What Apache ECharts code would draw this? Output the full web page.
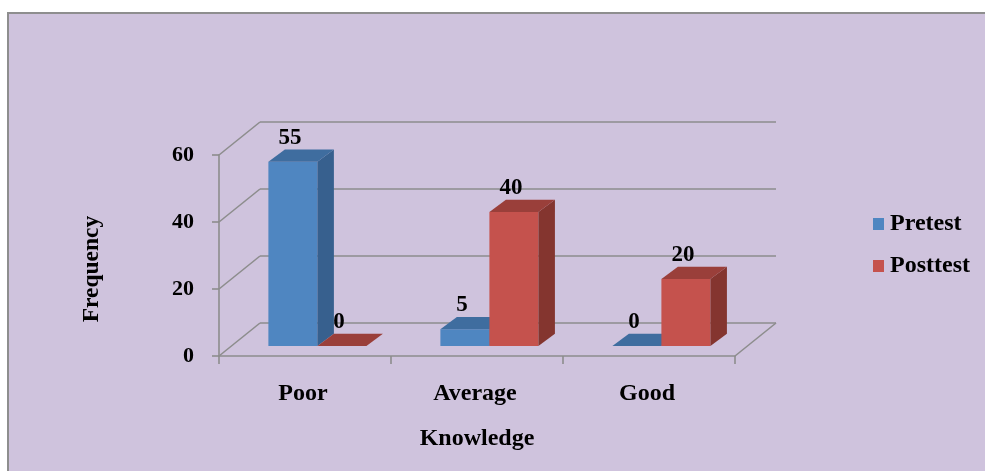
<!DOCTYPE html>
<html>
<head>
<meta charset="utf-8">
<title>Knowledge</title>
<style>
    html, body { margin: 0; padding: 0; background: #fff; }
    #box1 { width: 985px; height: 471px; }
</style>
<script src="https://cdn.jsdelivr.net/npm/echarts@6/dist/echarts.min.js"></script>
</head>
<body>
<div id="box1"></div>
<script>
var categories = ['Poor', 'Average', 'Good'];
var pretest = [55, 5, 0];
var posttest = [0, 40, 20];
var yTicks = [0, 20, 40, 60];

var fontFamily = '"Liberation Serif", "Times New Roman", serif';
var lineColor = '#8d8d8d';
var blueFaces = { front: '#4f86c1', side: '#37608e', top: '#3f6d9f' };
var redFaces = { front: '#c5524d', side: '#84352f', top: '#9a3f3a' };

// depth of the 3d box, and of one bar inside it
var wallDx = 41, wallDy = -33;
var floorDx = 12.4, floorDy = -10;
var barDx = 16.5, barDy = -12.3;
var barRatio = 0.285;

var chart = echarts.init(document.getElementById('box1'));

function poly(points, color) {
    return { type: 'polygon', shape: { points: points }, style: { fill: color } };
}

function wallLine(x1, y1, x2, y2) {
    return {
        type: 'line',
        shape: { x1: x1, y1: y1, x2: x2, y2: y2 },
        style: { stroke: lineColor, lineWidth: 1.6, fill: null }
    };
}

function renderWall(params, api) {
    var sys = params.coordSys;
    var val = api.value(1);
    var y = api.coord([0, val])[1];
    var left = sys.x, right = sys.x + sys.width;
    var children = [
        wallLine(left, y, left + wallDx, y + wallDy),
        wallLine(left + wallDx, y + wallDy, right + wallDx, y + wallDy)
    ];
    if (val === 0) {
        children.push(wallLine(right, y, right + wallDx, y + wallDy));
    }
    return { type: 'group', children: children };
}

function barRenderer(faces, side) {
    return function (params, api) {
        var top = api.coord([api.value(0), api.value(1)]);
        var base = api.coord([api.value(0), 0]);
        var barW = api.size([1, 0])[0] * barRatio;
        var x1 = top[0] + floorDx + (side < 0 ? -barW : 0);
        var x2 = x1 + barW;
        var y1 = top[1] + floorDy;
        var y2 = base[1] + floorDy;
        var children = [];
        if (y2 - y1 > 0) {
            children.push(poly([[x1, y1], [x2, y1], [x2, y2], [x1, y2]], faces.front));
            children.push(poly([[x2, y1], [x2 + barDx, y1 + barDy], [x2 + barDx, y2 + barDy], [x2, y2]], faces.side));
        }
        children.push(poly([[x1, y1], [x2, y1], [x2 + barDx, y1 + barDy], [x1 + barDx, y1 + barDy]], faces.top));
        children.push({
            type: 'text',
            style: {
                x: (x1 + x2) / 2 - 3,
                y: y1 - 24,
                text: String(api.value(1)),
                fill: '#000',
                font: 'bold 23px ' + fontFamily,
                textAlign: 'center',
                textVerticalAlign: 'middle'
            }
        });
        return { type: 'group', children: children };
    };
}

var option = {
    animation: false,
    backgroundColor: '#fff',
    graphic: [{
        type: 'rect',
        z: -10,
        left: 7,
        top: 12,
        shape: { width: 1000, height: 480 },
        style: { fill: '#cfc3dd', stroke: '#8e8e8e', lineWidth: 2 }
    }, {
        // y axis title sits lower than the middle of the axis
        type: 'text',
        x: 92,
        y: 269,
        rotation: Math.PI / 2,
        style: {
            text: 'Frequency',
            fill: '#000',
            font: 'bold 23.5px ' + fontFamily,
            textAlign: 'center',
            textVerticalAlign: 'middle'
        }
    }],
    legend: {
        orient: 'vertical',
        left: 868,
        top: 207,
        itemWidth: 11,
        itemHeight: 12,
        itemGap: 18,
        icon: 'rect',
        data: ['Pretest', 'Posttest'],
        textStyle: {
            color: '#000',
            fontFamily: fontFamily,
            fontWeight: 'bold',
            fontSize: 24,
            padding: [0, 0, 0, 1]
        }
    },
    grid: { left: 219, top: 155, width: 516, height: 201 },
    xAxis: {
        type: 'category',
        data: categories,
        name: 'Knowledge',
        nameLocation: 'middle',
        nameGap: 71,
        nameTextStyle: { color: '#000', fontFamily: fontFamily, fontWeight: 'bold', fontSize: 24 },
        axisLine: { lineStyle: { color: lineColor, width: 1.6 } },
        axisTick: { show: true, alignWithLabel: false, length: 8, lineStyle: { color: lineColor, width: 1.6 } },
        axisLabel: { color: '#000', fontFamily: fontFamily, fontWeight: 'bold', fontSize: 24, margin: 26, padding: [0, 4, 0, 0] },
        splitLine: { show: false }
    },
    yAxis: {
        type: 'value',
        min: 0,
        max: 60,
        interval: 20,
        axisLine: { show: true, lineStyle: { color: lineColor, width: 1.6 } },
        axisTick: { show: true, length: 7, lineStyle: { color: lineColor, width: 1.6 } },
        axisLabel: { color: '#000', fontFamily: fontFamily, fontWeight: 'bold', fontSize: 22, margin: 25, padding: [2, 0, 0, 0] },
        splitLine: { show: false }
    },
    series: [
        {
            type: 'custom',
            silent: true,
            clip: false,
            z: 1,
            renderItem: renderWall,
            encode: { x: 0, y: 1 },
            data: yTicks.map(function (v) { return [0, v]; })
        },
        {
            name: 'Pretest',
            type: 'custom',
            clip: false,
            z: 2,
            itemStyle: { color: blueFaces.front },
            renderItem: barRenderer(blueFaces, -1),
            encode: { x: 0, y: 1 },
            data: pretest.map(function (v, i) { return [i, v]; })
        },
        {
            name: 'Posttest',
            type: 'custom',
            clip: false,
            z: 3,
            itemStyle: { color: redFaces.front },
            renderItem: barRenderer(redFaces, 1),
            encode: { x: 0, y: 1 },
            data: posttest.map(function (v, i) { return [i, v]; })
        }
    ]
};

chart.setOption(option);
</script>
</body>
</html>
